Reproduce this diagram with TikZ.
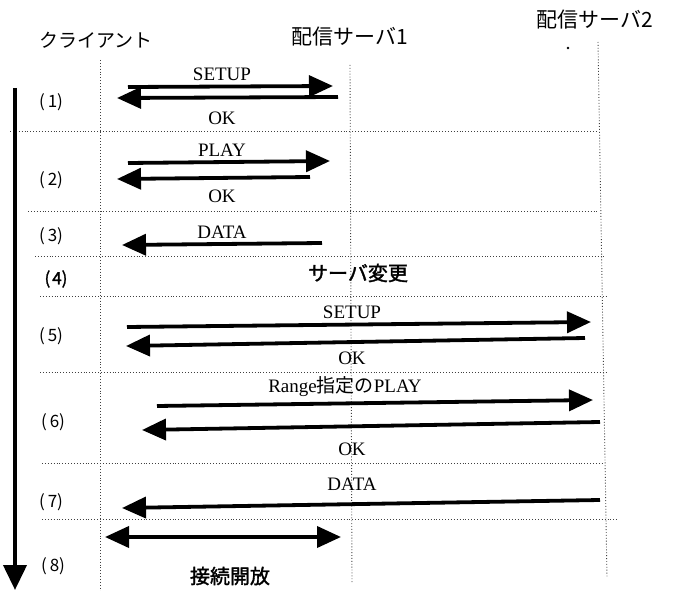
\documentclass[tikz,border=0pt]{standalone}
\usepackage{fontspec}
\setmainfont{Liberation Serif}
\newfontfamily\jp{Noto Sans CJK JP}
\newfontfamily\jpm{Noto Sans CJK JP}[FakeBold=1.6]
\usetikzlibrary{arrows.meta}
\begin{document}
\begin{tikzpicture}[x=1pt,y=-1pt,
  life/.style={black!75,line width=0.9pt,dotted},
  sepline/.style={black!75,line width=0.9pt,dotted},
  msg/.style={line width=3.8pt,-{Triangle[length=24pt,width=21pt]}},
  dmsg/.style={line width=3.8pt,{Triangle[length=24pt,width=21pt]}-{Triangle[length=24pt,width=21pt]}},
  lbl/.style={font=\fontsize{19}{19}\selectfont,inner sep=0pt},
  jlbl/.style={font=\jp\fontsize{19}{19}\selectfont,inner sep=0pt},
  jbig/.style={font=\jp\fontsize{21}{21}\selectfont,inner sep=0pt},
  jbold/.style={font=\jpm\fontsize{20}{20}\selectfont,inner sep=0pt},
  num/.style={font=\jp\fontsize{17}{17}\selectfont,inner sep=0pt},
  numb/.style={font=\jpm\fontsize{17}{17}\selectfont,inner sep=0pt}]
\useasboundingbox (0,0) rectangle (673,591);
% headers
\node[jlbl] (hc) at (96,40) {クライアント};
\node[jbig] (h1) at (350,37) {配信サーバ1};
\node[jbig] (h2) at (595,20) {配信サーバ2};
\fill (568,48) circle (1.4);
% lifelines
\coordinate (c0) at (100,60); \coordinate (c1) at (100,591);
\coordinate (s10) at (350,65); \coordinate (s11) at (352,582);
\coordinate (s20) at (598,42); \coordinate (s21) at (607,578);
\draw[life] (c0) -- (c1);
\draw[life] (s10) -- (s11);
\draw[life] (s20) -- (s21);
% separators
\foreach \y/\a/\b [count=\i] in {131/10/598,211/28/598,256/35/605,296/40/607,372/40/608,463/42/603,519/42/617}{
  \coordinate (sa\i) at (\a,\y); \coordinate (sb\i) at (\b,\y);
  \draw[sepline] (sa\i) -- (sb\i);
}
% time arrow
\coordinate (t0) at (15,88); \coordinate (t1) at (15,590);
\draw[line width=4pt,-{Triangle[length=25pt,width=23pt]}] (t0) -- (t1);
% step numbers
\node[num] (n1) at (51,102) {(\hspace{3pt}1)};
\node[num] (n2) at (51,180) {(\hspace{3pt}2)};
\node[num] (n3) at (51,236) {(\hspace{3pt}3)};
\node[numb] (n4) at (56,279) {(\hspace{2pt}4)};
\node[num] (n5) at (51,336) {(\hspace{3pt}5)};
\node[num] (n6) at (53,422) {(\hspace{3pt}6)};
\node[num] (n7) at (51,502) {(\hspace{3pt}7)};
\node[num] (n8) at (53,566) {(\hspace{3pt}8)};
% (1)
\coordinate (a1s) at (128,87); \coordinate (a1e) at (333,86);
\coordinate (b1s) at (338,97); \coordinate (b1e) at (117,98);
\draw[msg] (a1s) -- (a1e);
\draw[msg] (b1s) -- (b1e);
\node[lbl] (l1a) at (222,74) {SETUP};
\node[lbl] (l1b) at (222,118) {OK};
% (2)
\coordinate (a2s) at (128,163); \coordinate (a2e) at (330,161);
\coordinate (b2s) at (310,177); \coordinate (b2e) at (117,179);
\draw[msg] (a2s) -- (a2e);
\draw[msg] (b2s) -- (b2e);
\node[lbl] (l2a) at (222,150) {PLAY};
\node[lbl] (l2b) at (222,196) {OK};
% (3)
\coordinate (a3s) at (322,243); \coordinate (a3e) at (122,245);
\draw[msg] (a3s) -- (a3e);
\node[lbl] (l3a) at (222,232) {DATA};
% (4)
\node[jbold] (l4) at (358,273) {サーバ変更};
% (5)
\coordinate (a5s) at (127,327); \coordinate (a5e) at (591,322);
\coordinate (b5s) at (585,338); \coordinate (b5e) at (126,346);
\draw[msg] (a5s) -- (a5e);
\draw[msg] (b5s) -- (b5e);
\node[lbl] (l5a) at (352,312) {SETUP};
\node[lbl] (l5b) at (352,358) {OK};
% (6)
\coordinate (a6s) at (157,406); \coordinate (a6e) at (593,400);
\coordinate (b6s) at (600,422); \coordinate (b6e) at (142,430);
\draw[msg] (a6s) -- (a6e);
\draw[msg] (b6s) -- (b6e);
\node[lbl] (l6a) at (345,387) {Range\jp 指定の\rmfamily PLAY};
\node[lbl] (l6b) at (352,449) {OK};
% (7)
\coordinate (a7s) at (600,500); \coordinate (a7e) at (122,508);
\draw[msg] (a7s) -- (a7e);
\node[lbl] (l7a) at (352,484) {DATA};
% (8)
\coordinate (a8s) at (105,537); \coordinate (a8e) at (341,537);
\draw[dmsg] (a8s) -- (a8e);
\node[jbold] (l8) at (230,576) {接続開放};
\end{tikzpicture}
\end{document}
